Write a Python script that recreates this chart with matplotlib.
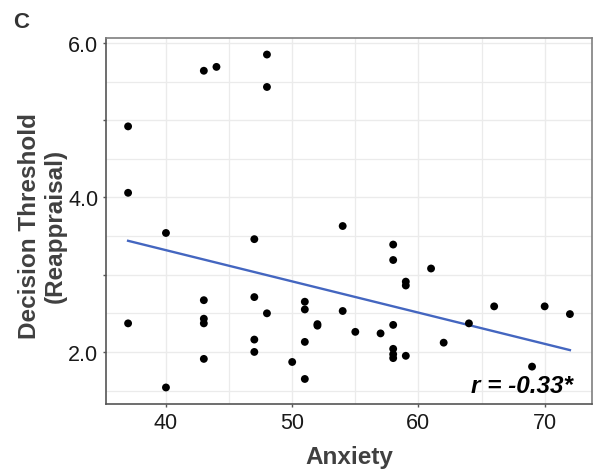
import numpy as np
import matplotlib
matplotlib.use('Agg')
import matplotlib.pyplot as plt

# anxiety score vs decision threshold (reappraisal)
anxiety = [37, 37, 37,
           40, 40,
           43, 43, 43, 43, 43,
           44,
           47, 47, 47, 47,
           48, 48, 48,
           50,
           51, 51, 51, 51,
           52, 52,
           54, 54,
           55, 57,
           58, 58, 58, 58, 58, 58,
           59, 59, 59,
           61, 62, 64, 66, 69, 70, 72]
threshold = [4.92, 4.06, 2.37,
             3.54, 1.54,
             5.64, 2.67, 2.43, 2.37, 1.91,
             5.69,
             3.46, 2.71, 2.16, 2.00,
             5.85, 5.43, 2.50,
             1.87,
             2.65, 2.55, 2.13, 1.65,
             2.36, 2.34,
             3.63, 2.53,
             2.26, 2.24,
             3.39, 3.19, 2.35, 2.04, 1.97, 1.92,
             2.91, 2.86, 1.95,
             3.08, 2.12, 2.37, 2.59, 1.81, 2.59, 2.49]
r_label = 'r = -0.33*'

x = np.array(anxiety, dtype=float)
y = np.array(threshold)

plt.rcParams['font.family'] = ['Liberation Sans', 'DejaVu Sans']

fig = plt.figure(figsize=(5.93, 4.77), dpi=100)
ax = fig.add_axes([106 / 593, 1 - 405 / 477, 486 / 593, 366 / 477])

# linear fit like geom_smooth(method='lm', se=FALSE)
slope, intercept = np.polyfit(x, y, 1)
xs = np.array([x.min(), x.max()])
ax.plot(xs, slope * xs + intercept, color='#4466C0', lw=1.7, zorder=2)

ax.scatter(x, y, s=32, color='black', edgecolors='none', zorder=3)

ax.set_xlim(35.25, 73.75)
ax.set_ylim(1.326, 6.064)

ax.set_xticks([40, 50, 60, 70])
ax.set_xticks([45, 55, 65], minor=True)
ax.set_yticks([2, 3, 4, 5, 6])
ax.set_yticklabels(['2.0', '', '4.0', '', '6.0'])
ax.set_yticks([1.5, 2.5, 3.5, 4.5, 5.5], minor=True)

ax.grid(True, which='major', color='#EBEBEB', lw=1.0)
ax.grid(True, which='minor', color='#EBEBEB', lw=0.9)
ax.set_axisbelow(True)

ax.tick_params(axis='both', which='major', length=2.5, width=1, color='#555555',
               labelsize=15.5, labelcolor='#1A1A1A', pad=3)
ax.tick_params(axis='both', which='minor', length=0)

for side in ['left', 'bottom']:
    ax.spines[side].set_color('#555555')
    ax.spines[side].set_linewidth(1.2)
for side in ['top', 'right']:
    ax.spines[side].set_color('#7F7F7F')
    ax.spines[side].set_linewidth(1.2)

ax.set_xlabel('Anxiety', fontsize=17.5, fontweight='bold', color='#404040', labelpad=9)
ax.set_ylabel('Decision Threshold\n(Reappraisal)', fontsize=17.5, fontweight='bold',
              color='#404040', linespacing=1.15)
ax.yaxis.set_label_coords(-0.08, 0.49)

ax.text(0.961, 0.02, r_label, transform=ax.transAxes, ha='right', va='bottom',
        fontsize=17.5, fontweight='bold', fontstyle='italic', color='black')

fig.text(0.022, 0.953, 'C', fontsize=16, fontweight='bold', color='#333333',
         ha='left', va='center')

fig.savefig('out.png', dpi=100)
